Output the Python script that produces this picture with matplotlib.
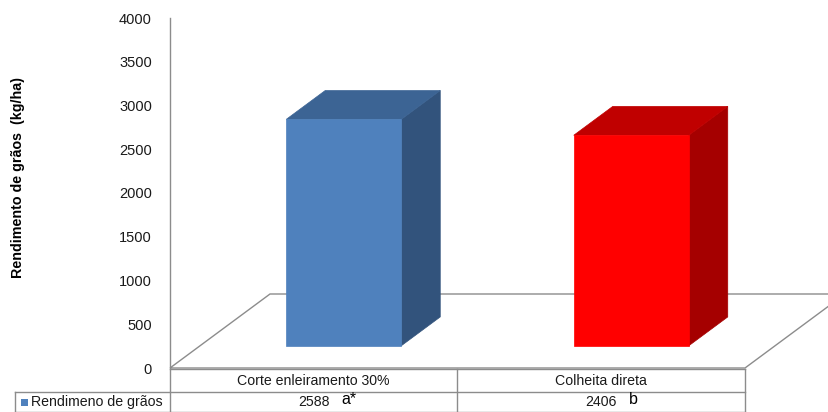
import matplotlib
matplotlib.use("Agg")
import matplotlib.pyplot as plt
from matplotlib.patches import Polygon, Rectangle
from matplotlib.transforms import blended_transform_factory

# data
categories  = ['Corte enleiramento 30%', 'Colheita direta']
values      = [2588, 2406]
letters     = ['a*', 'b']
series_name = 'Rendimeno de grãos'
y_label     = 'Rendimento de grãos  (kg/ha)'
y_ticks     = [0, 500, 1000, 1500, 2000, 2500, 3000, 3500, 4000]

front_cols  = ['#4F81BD', '#FF0000']
side_cols   = ['#32537C', '#A50000']
top_cols    = ['#3C6494', '#C00000']
grid_col    = '#8C8C8C'

plt.rcParams['font.family'] = ['Liberation Sans', 'DejaVu Sans']

W, H = 829, 412
fig = plt.figure(figsize=(W/100, H/100), dpi=100)
ax = fig.add_axes([170/W, (H-368)/H, 575/W, 350/H])
ax.set_xlim(-0.5, 1.5)
ax.set_ylim(0, 4000)

# oblique depth: one unit of depth moves 100 px right and 74 px up
kx = 100/287.5
ky = 74*4000/350

def proj(x, y, z):
    return (x + z*kx, y + z*ky)

# floor outline
floor = [proj(-0.5, 0, 0), proj(1.5, 0, 0), proj(1.5, 0, 1), proj(-0.5, 0, 1)]
ax.add_patch(Polygon(floor, closed=True, fill=False, edgecolor=grid_col,
                     lw=1.0, clip_on=False))

z0, z1, hw = 0.3, 0.69, 0.2
for i, v in enumerate(values):
    x0, x1 = i - hw, i + hw
    front = [proj(x0, 0, z0), proj(x1, 0, z0), proj(x1, v, z0), proj(x0, v, z0)]
    side  = [proj(x1, 0, z0), proj(x1, 0, z1), proj(x1, v, z1), proj(x1, v, z0)]
    top   = [proj(x0, v, z0), proj(x1, v, z0), proj(x1, v, z1), proj(x0, v, z1)]
    for pts, c in [(side, side_cols[i]), (top, top_cols[i]), (front, front_cols[i])]:
        ax.add_patch(Polygon(pts, closed=True, facecolor=c, edgecolor=c,
                             lw=0.5, clip_on=False))

ax.set_yticks(y_ticks)
ax.set_xticks([])
ax.tick_params(axis='y', length=0, pad=13, labelsize=10.5, labelcolor='#1a1a1a')
for s in ['top', 'right', 'bottom']:
    ax.spines[s].set_visible(False)
ax.spines['left'].set_color(grid_col)
ax.spines['left'].set_linewidth(1.0)

# data table under the chart
tr = blended_transform_factory(ax.transData, ax.transAxes)
px = lambda p: (368 - p)/350          # pixel row -> axes y
left_edge = -0.5 - 155/287.5
r0, r1, r2 = px(368.5), px(392), px(411.5)
lk = dict(color=grid_col, lw=1.0, transform=tr, clip_on=False)
ax.plot([-0.5, 1.5], [r0, r0], **lk)
ax.plot([left_edge, 1.5], [r1, r1], **lk)
ax.plot([left_edge, 1.5], [r2, r2], **lk)
for xv in [-0.5, 0.5, 1.5]:
    ax.plot([xv, xv], [r0, r2], **lk)
ax.plot([left_edge, left_edge], [r1, r2], **lk)

ymid1, ymid2 = px(381), px(402)
for i, cat in enumerate(categories):
    ax.text(i, ymid1, cat, transform=tr, ha='center', va='center', fontsize=10.2,
            color='#1a1a1a')
    ax.text(i, ymid2, str(values[i]), transform=tr, ha='center', va='center',
            fontsize=10.2, color='#1a1a1a')
    ax.text(i + 28/287.5, px(399.5), letters[i], transform=tr, ha='left',
            va='center', fontsize=11.5)

key_x = left_edge + 6/287.5
ax.add_patch(Rectangle((key_x, px(405.5)), 7/287.5, 7/350, transform=tr,
                       facecolor=front_cols[0], edgecolor='none', clip_on=False))
ax.text(key_x + 10/287.5, ymid2, series_name, transform=tr, ha='left',
        va='center', fontsize=10.2, color='#1a1a1a')

fig.text(18/W, (H-178)/H, y_label, rotation=90, ha='center', va='center',
         fontsize=10.3, fontweight='bold')

fig.savefig('out.png', dpi=100)
